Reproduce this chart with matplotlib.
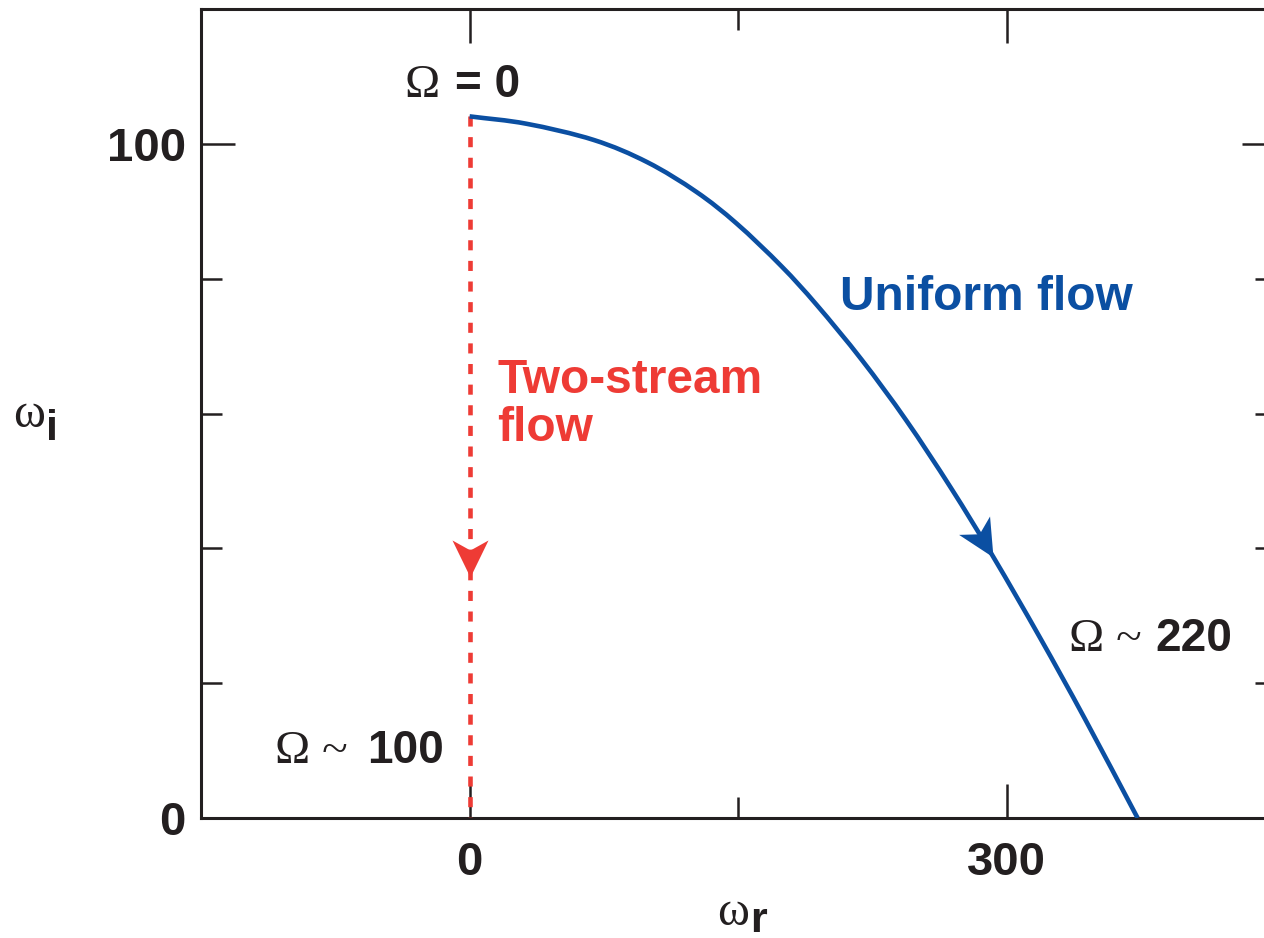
import numpy as np
import matplotlib.pyplot as plt
from matplotlib.path import Path
from matplotlib.patches import PathPatch
from matplotlib.markers import MarkerStyle
from matplotlib.transforms import Affine2D

# dispersion data
uniform_r = [0, 31.8, 69.3, 99.2, 126.6, 149.1, 174.0, 193.9, 218.9, 243.8, 268.7, 292.5, 318.4, 343.6, 373.0]
uniform_i = [104.1, 103.0, 100.6, 97.3, 92.9, 88.2, 81.9, 76.1, 68.0, 59.0, 49.0, 38.7, 26.8, 14.7, 0.0]
two_stream_r = [0, 0]
two_stream_i = [104.1, 0]

arrow_idx = 11          # arrow tip on the uniform flow curve
arrow_two_stream = 35.8  # arrow tip height on the two-stream line

xticks = [0, 300]
xtick_labels = ["0", "300"]
xminor = [-150, 150, 450]
yticks = [0, 100]
ytick_labels = ["0", "100"]
yminor = [20, 40, 60, 80, 120]

BLUE = "#0b4fa2"
RED = "#ee3b35"
DARK = "#231f20"
SANS = "Liberation Sans"
SERIF = "Liberation Serif"

W, H = 1264, 938
fig = plt.figure(figsize=(W / 100, H / 100), dpi=100)
ax = fig.add_axes([201 / W, 1 - 818 / H, (1275.5 - 201) / W, (818 - 9.2) / H])
ax.set_xlim(-150, 450)
ax.set_ylim(0, 120)

for s in ax.spines.values():
    s.set_linewidth(2.2)
    s.set_color(DARK)

ax.set_xticks(xticks)
ax.set_xticklabels(xtick_labels)
ax.set_xticks(xminor, minor=True)
ax.set_yticks(yticks)
ax.set_yticklabels(ytick_labels)
ax.set_yticks(yminor, minor=True)
ax.tick_params(which="both", direction="in", top=True, right=True, color=DARK, width=1.8)
ax.tick_params(which="major", length=24.5)
ax.tick_params(which="minor", length=15)
ax.tick_params(axis="x", which="major", pad=16.5)
ax.tick_params(axis="y", which="major", pad=11)
for lab in ax.get_xticklabels() + ax.get_yticklabels():
    lab.set_fontfamily(SANS)
    lab.set_fontweight("bold")
    lab.set_fontsize(34)
    lab.set_color(DARK)

# two-stream line
ax.plot(two_stream_r, two_stream_i, color=RED, lw=3.3, dashes=(2.2, 2.3),
        dash_capstyle="butt", zorder=3)

# uniform flow curve: smooth Catmull-Rom path through the read points
pts = np.column_stack([uniform_r, uniform_i])
ext = np.vstack([2 * pts[0] - pts[1], pts, 2 * pts[-1] - pts[-2]])
verts = [tuple(pts[0])]
codes = [Path.MOVETO]
for k in range(1, len(ext) - 2):
    c1 = ext[k] + (ext[k + 1] - ext[k - 1]) / 6
    c2 = ext[k + 1] - (ext[k + 2] - ext[k]) / 6
    verts += [tuple(c1), tuple(c2), tuple(ext[k + 1])]
    codes += [Path.CURVE4] * 3
ax.add_patch(PathPatch(Path(verts, codes), fill=False, edgecolor=BLUE, lw=3.3,
                       capstyle="butt", zorder=4))

# notched arrow heads
arrow_path = Path([(0, 0), (-37, 18), (-27, 0), (-37, -18), (0, 0)],
                  [Path.MOVETO, Path.LINETO, Path.LINETO, Path.LINETO, Path.CLOSEPOLY])


def arrow_marker(angle):
    return MarkerStyle(arrow_path, transform=Affine2D().rotate_deg(angle))


p0 = ax.transData.transform((uniform_r[arrow_idx - 1], uniform_i[arrow_idx - 1]))
p1 = ax.transData.transform((uniform_r[arrow_idx + 1], uniform_i[arrow_idx + 1]))
ang = np.degrees(np.arctan2(p1[1] - p0[1], p1[0] - p0[0]))
ax.plot([uniform_r[arrow_idx]], [uniform_i[arrow_idx]], marker=arrow_marker(ang),
        ms=53.3, color=BLUE, mew=0, zorder=5)
ax.plot([two_stream_r[0]], [arrow_two_stream], marker=arrow_marker(-90),
        ms=53.3, color=RED, mew=0, zorder=5)

# annotations
ax.text(-36.3, 107.0, "Ω", family=SERIF, fontsize=34, color=DARK, va="baseline")
ax.text(-8.4, 107.0, "= 0", family=SANS, weight="bold", fontsize=33, color=DARK, va="baseline")
ax.text(334.6, 24.8, "Ω ~", family=SERIF, fontsize=34, color=DARK, va="baseline")
ax.text(382.7, 24.8, "220", family=SANS, weight="bold", fontsize=33, color=DARK, va="baseline")
ax.text(-108.9, 8.2, "Ω ~", family=SERIF, fontsize=34, color=DARK, va="baseline")
ax.text(-57.5, 8.2, "100", family=SANS, weight="bold", fontsize=33, color=DARK, va="baseline")
ax.text(206.7, 75.4, "Uniform flow", family=SANS, weight="bold", fontsize=34.5, color=BLUE, va="baseline")
ax.text(15.6, 63.0, "Two-stream", family=SANS, weight="bold", fontsize=34.5, color=RED, va="baseline")
ax.text(15.6, 55.9, "flow", family=SANS, weight="bold", fontsize=34.5, color=RED, va="baseline")

# axis labels
fig.text(13 / W, 1 - 427 / H, "ω", family=SERIF, fontsize=35, color=DARK, va="baseline")
fig.text(46 / W, 1 - 440 / H, "i", family=SANS, weight="bold", fontsize=31, color=DARK, va="baseline")
fig.text(717 / W, 1 - 925 / H, "ω", family=SERIF, fontsize=35, color=DARK, va="baseline")
fig.text(750 / W, 1 - 932 / H, "r", family=SANS, weight="bold", fontsize=31, color=DARK, va="baseline")

fig.savefig("out.png", dpi=100)
